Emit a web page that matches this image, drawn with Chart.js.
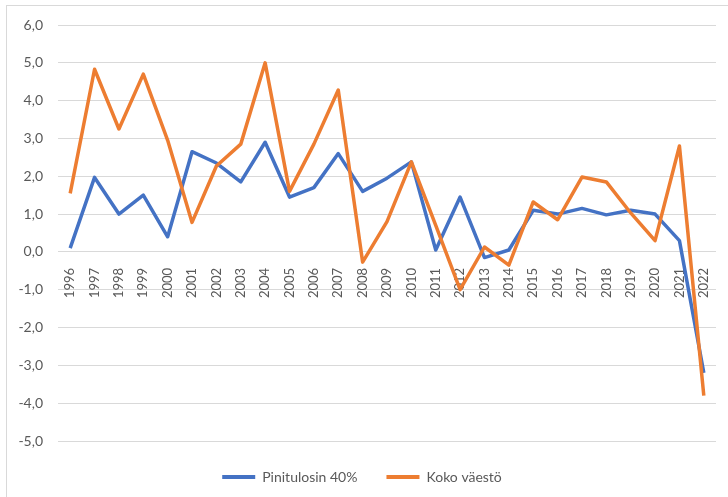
<!DOCTYPE html>
<html>
<head>
<meta charset="utf-8">
<script src="https://cdn.jsdelivr.net/npm/chart.js@4/dist/chart.umd.min.js"></script>
<style>
    html, body { margin: 0; padding: 0; background: #fff; overflow: hidden; }
    #wrap { position: absolute; left: 0; top: 0; width: 728px; height: 497px; }
    #frame { position: absolute; left: 6px; top: 5px; width: 760px; height: 520px; border: 1px solid #d9d9d9; }
</style>
</head>
<body>
<div id="frame"></div>
<div id="wrap"><canvas id="chart"></canvas></div>
<script>
// ---------- Data ----------
const years = ["1996", "1997", "1998", "1999", "2000", "2001", "2002", "2003", "2004", "2005",
               "2006", "2007", "2008", "2009", "2010", "2011", "2012", "2013", "2014", "2015",
               "2016", "2017", "2018", "2019", "2020", "2021", "2022"];

const lowest40 = [0.1, 1.97, 1.0, 1.5, 0.4, 2.65, 2.35, 1.85, 2.9, 1.45,
                  1.7, 2.6, 1.6, 1.95, 2.38, 0.05, 1.45, -0.15, 0.05, 1.1,
                  1.0, 1.15, 0.98, 1.1, 1.0, 0.3, -3.2];

const wholePop = [1.55, 4.83, 3.25, 4.7, 2.95, 0.78, 2.27, 2.85, 5.0, 1.6,
                  2.85, 4.28, -0.27, 0.8, 2.38, 0.7, -1.0, 0.13, -0.35, 1.32,
                  0.85, 1.98, 1.85, 1.03, 0.3, 2.8, -3.8];

const seriesNames = ["Pinitulosin 40%", "Koko väestö"];
const yTicks = [-5, -4, -3, -2, -1, 0, 1, 2, 3, 4, 5, 6];

// ---------- Styling ----------
const textColor = "#595959";
const gridColor = "#d9d9d9";
const fontFamily = "Lato, 'Open Sans', sans-serif";

function fmt(v) {
    return v.toFixed(1).replace(".", ",");
}

new Chart(document.getElementById("chart"), {
    type: "line",
    data: {
        labels: years,
        datasets: [
            {
                label: seriesNames[0],
                data: lowest40,
                borderColor: "#4472C4",
                backgroundColor: "#4472C4",
                borderWidth: 3.5,
                pointRadius: 0,
                tension: 0,
                borderJoinStyle: "round",
                order: 1
            },
            {
                label: seriesNames[1],
                data: wholePop,
                borderColor: "#ED7D31",
                backgroundColor: "#ED7D31",
                borderWidth: 3.5,
                pointRadius: 0,
                tension: 0,
                borderJoinStyle: "round",
                order: 0
            }
        ]
    },
    options: {
        responsive: true,
        maintainAspectRatio: false,
        animation: false,
        layout: { padding: { left: 8, right: 12, top: 25, bottom: 3 } },
        plugins: {
            tooltip: { enabled: false },
            legend: {
                position: "bottom",
                labels: {
                    color: textColor,
                    font: { family: fontFamily, size: 14 },
                    boxWidth: 33,
                    boxHeight: 4,
                    padding: 29,
                    sort: (a, b) => a.datasetIndex - b.datasetIndex,
                    generateLabels: chart => {
                        const items = Chart.defaults.plugins.legend.labels.generateLabels(chart);
                        items.forEach(it => { it.lineWidth = 0; it.fillStyle = it.strokeStyle; });
                        return items;
                    }
                }
            }
        },
        scales: {
            x: {
                position: { y: 0 },
                offset: true,
                grid: { display: false },
                border: { display: false },
                ticks: {
                    color: textColor,
                    font: { family: fontFamily, size: 13 },
                    minRotation: 90,
                    maxRotation: 90,
                    autoSkip: false,
                    padding: 8
                }
            },
            y: {
                min: -5,
                max: 6,
                afterFit: scale => { scale.width = 50; },
                afterBuildTicks: scale => { scale.ticks = yTicks.map(v => ({ value: v })); },
                grid: { color: gridColor, lineWidth: 1, drawTicks: false },
                border: { display: false },
                ticks: {
                    color: textColor,
                    font: { family: fontFamily, size: 14 },
                    padding: 15,
                    callback: v => fmt(v)
                }
            }
        }
    }
});
</script>
</body>
</html>
